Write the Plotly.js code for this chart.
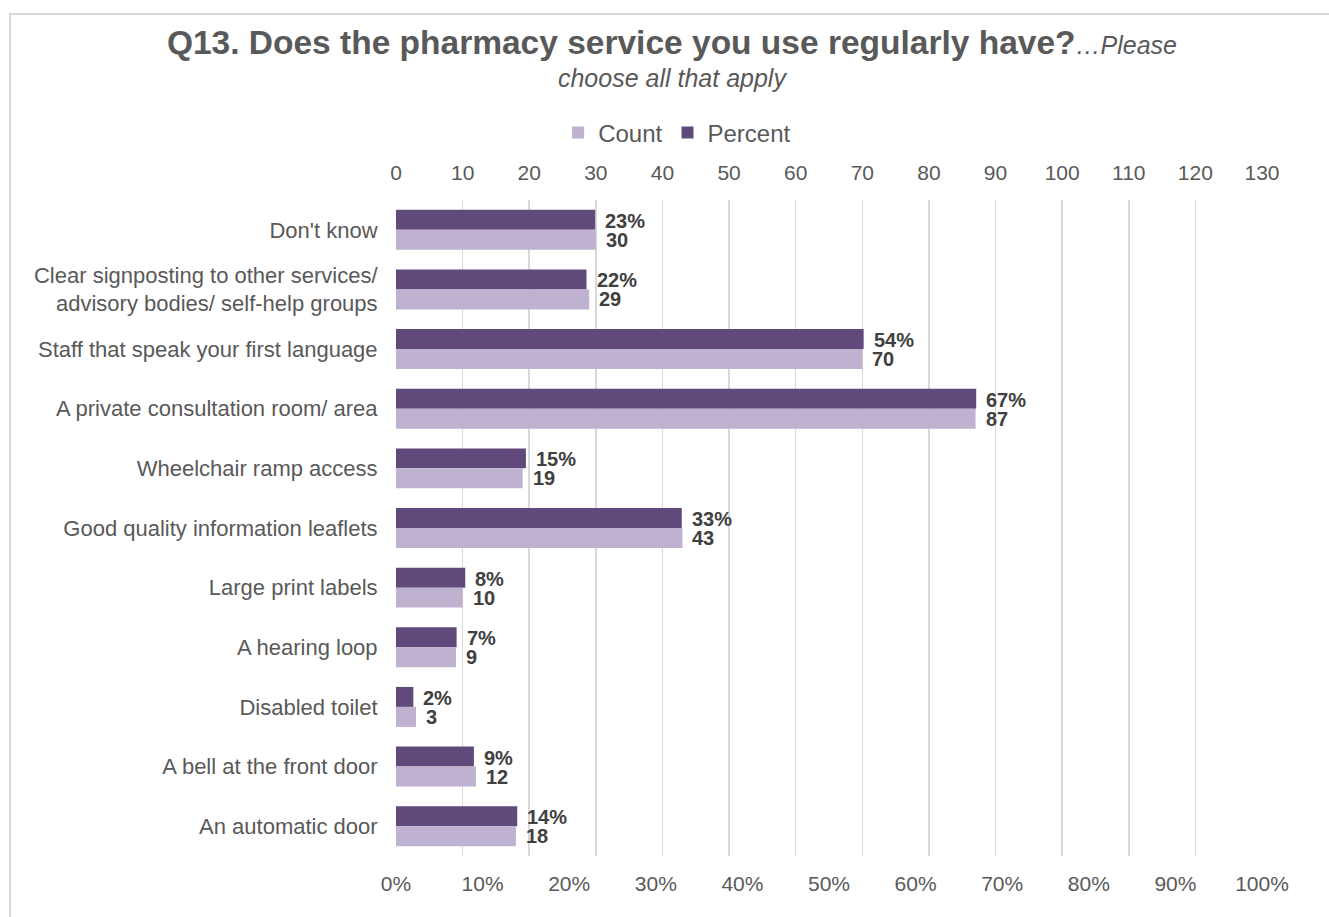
<!DOCTYPE html>
<html>
<head>
<meta charset="utf-8">
<script src="https://cdn.plot.ly/plotly-3.0.1.min.js"></script>
<style>
  html, body { margin: 0; padding: 0; background: #ffffff; overflow: hidden; }
  #chart { position: absolute; left: 0; top: 0; width: 1329px; height: 917px; }
  /* chart-area frame (runs off the right and bottom edges) */
  #frame { position: absolute; left: 9px; top: 13px; width: 1400px; height: 1000px;
           border-left: 2px solid #d9d9d9; border-top: 2px solid #d9d9d9; pointer-events: none; }
</style>
</head>
<body>
<div id="chart"></div>
<div id="frame"></div>
<script>
// Survey answers, top to bottom
const categories = [
  "Don't know",
  "Clear signposting to other services/<br>advisory bodies/ self-help groups",
  "Staff that speak your first language",
  "A private consultation room/ area",
  "Wheelchair ramp access",
  "Good quality information leaflets",
  "Large print labels",
  "A hearing loop",
  "Disabled toilet",
  "A bell at the front door",
  "An automatic door"
];
const countValues   = [30, 29, 70, 87, 19, 43, 10, 9, 3, 12, 18];
const percentValues = [23, 22, 54, 67, 15, 33, 8, 7, 2, 9, 14];

const countTicks   = [0, 10, 20, 30, 40, 50, 60, 70, 80, 90, 100, 110, 120, 130];
const percentTicks = [0, 10, 20, 30, 40, 50, 60, 70, 80, 90, 100];
const percentTickText = percentTicks.map(v => v + '%');

const COUNT_COLOR = '#bfb2d1';
const PERCENT_COLOR = '#604a7b';
const FONT = 'Liberation Sans, Arial, sans-serif';
const GREY = '#595959';
const LABEL = '#404040';

const BAR_W = 0.335;

const countTrace = {
  type: 'bar', orientation: 'h', name: 'Count',
  x: countValues, y: categories,
  xaxis: 'x2', yaxis: 'y',
  width: BAR_W, offset: 0,
  marker: { color: COUNT_COLOR },
  hoverinfo: 'x+y'
};
const percentTrace = {
  type: 'bar', orientation: 'h', name: 'Percent',
  x: percentValues, y: categories,
  xaxis: 'x', yaxis: 'y',
  width: BAR_W, offset: -BAR_W,
  marker: { color: PERCENT_COLOR },
  hoverinfo: 'x+y'
};

// value labels at the end of each bar
const annotations = [];
categories.forEach((c, i) => {
  annotations.push({
    xref: 'x', yref: 'y', x: percentValues[i], y: i,
    text: '<b>' + percentValues[i] + '%</b>', showarrow: false,
    xanchor: 'left', yanchor: 'middle', xshift: 9, yshift: 9.5,
    height: 17, borderpad: 0,
    font: { family: FONT, size: 20, color: LABEL }
  });
  annotations.push({
    xref: 'x2', yref: 'y', x: countValues[i], y: i,
    text: '<b>' + countValues[i] + '</b>', showarrow: false,
    xanchor: 'left', yanchor: 'middle', xshift: 9, yshift: -9.5,
    height: 17, borderpad: 0,
    font: { family: FONT, size: 20, color: LABEL }
  });
});

const layout = {
  width: 1329, height: 917,
  margin: { l: 396, r: 67, t: 200, b: 61 },
  paper_bgcolor: '#ffffff', plot_bgcolor: '#ffffff',
  font: { family: FONT, color: GREY },
  title: {
    text: '<span style="font-size:33.5px"><b>Q13. Does the pharmacy service you use regularly have?</b></span>' +
          '<i>…Please</i><br>' +
          '<i>choose all that apply</i>',
    font: { family: FONT, size: 25, color: GREY },
    xref: 'container', x: 0.5056, xanchor: 'center',
    yref: 'container', y: 1 - 54 / 917, yanchor: 'top'
  },
  showlegend: true,
  legend: {
    orientation: 'h', traceorder: 'normal',
    xref: 'container', x: 0.5095, xanchor: 'center',
    yref: 'container', y: 1 - 133 / 917, yanchor: 'middle',
    font: { family: FONT, size: 24, color: GREY },
    itemwidth: 30
  },
  xaxis: {
    range: [0, 100], side: 'bottom',
    tickvals: percentTicks, ticktext: percentTickText,
    showgrid: false, zeroline: false, showline: false,
    ticks: 'outside', ticklen: 9, tickcolor: 'rgba(0,0,0,0)',
    tickfont: { family: FONT, size: 21, color: GREY },
    fixedrange: true
  },
  xaxis2: {
    range: [0, 130], side: 'top', overlaying: 'x', anchor: 'y',
    tickvals: countTicks,
    showgrid: true, gridcolor: '#d9d9d9', gridwidth: 1.5,
    zeroline: false, showline: false,
    ticks: 'outside', ticklen: 11, tickcolor: 'rgba(0,0,0,0)',
    tickfont: { family: FONT, size: 21, color: GREY },
    fixedrange: true
  },
  yaxis: {
    type: 'category', autorange: 'reversed',
    showgrid: false, zeroline: false, showline: false,
    ticks: 'outside', ticklen: 13, tickcolor: 'rgba(0,0,0,0)',
    tickfont: { family: FONT, size: 22, color: GREY },
    fixedrange: true
  },
  annotations: annotations
};

Plotly.newPlot('chart', [countTrace, percentTrace], layout, { displayModeBar: false, staticPlot: true });
</script>
</body>
</html>
